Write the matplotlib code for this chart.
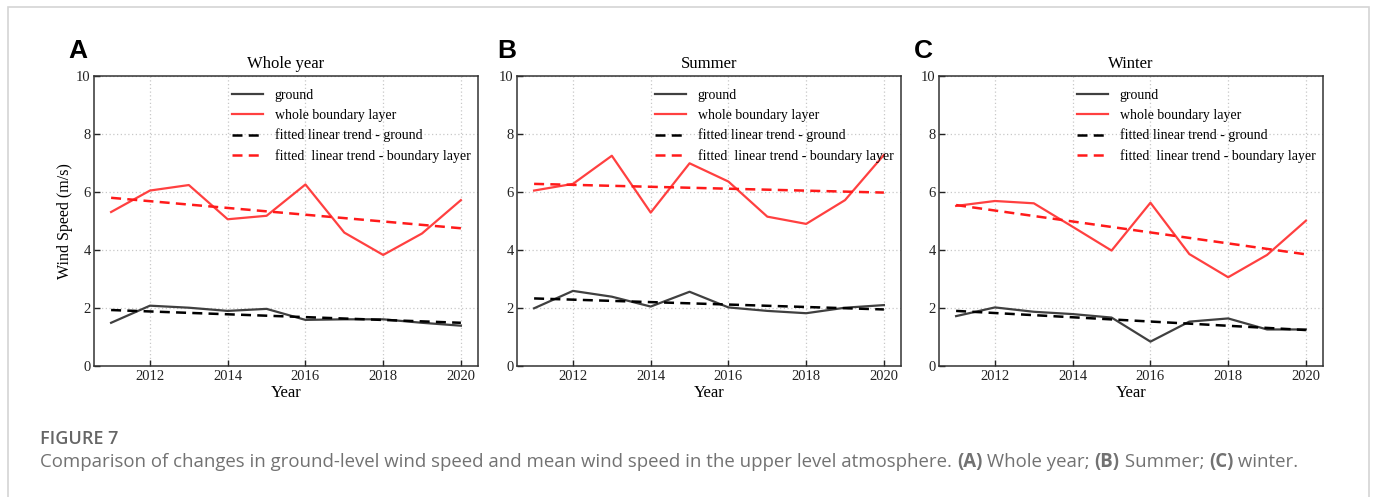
import matplotlib
matplotlib.use("Agg")
import matplotlib.pyplot as plt
from matplotlib.patches import Rectangle

years = [2011, 2012, 2013, 2014, 2015, 2016, 2017, 2018, 2019, 2020]

whole_ground = [1.49, 2.08, 2.01, 1.90, 1.97, 1.59, 1.61, 1.61, 1.49, 1.39]
whole_bl = [5.31, 6.05, 6.24, 5.06, 5.18, 6.26, 4.60, 3.83, 4.57, 5.72]
whole_trend_ground = [1.93, 1.49]
whole_trend_bl = [5.80, 4.75]

summer_ground = [1.99, 2.59, 2.39, 2.05, 2.56, 2.02, 1.90, 1.82, 2.01, 2.10]
summer_bl = [6.05, 6.28, 7.25, 5.29, 6.99, 6.36, 5.15, 4.90, 5.72, 7.28]
summer_trend_ground = [2.33, 1.95]
summer_trend_bl = [6.28, 5.98]

winter_ground = [1.72, 2.02, 1.87, 1.79, 1.67, 0.84, 1.53, 1.64, 1.26, 1.26]
winter_bl = [5.52, 5.69, 5.61, 4.80, 3.98, 5.63, 3.86, 3.06, 3.83, 5.01]
winter_trend_ground = [1.90, 1.24]
winter_trend_bl = [5.55, 3.85]

panel_titles = ["Whole year", "Summer", "Winter"]
panel_letters = ["A", "B", "C"]
legend_labels = ["ground", "whole boundary layer",
                 "fitted linear trend - ground",
                 "fitted  linear trend - boundary layer"]
x_ticks = [2012, 2014, 2016, 2018, 2020]
y_ticks = [0, 2, 4, 6, 8, 10]

panels = [
    (whole_ground, whole_bl, whole_trend_ground, whole_trend_bl),
    (summer_ground, summer_bl, summer_trend_ground, summer_trend_bl),
    (winter_ground, winter_bl, winter_trend_ground, winter_trend_bl),
]

W, H = 1375, 497
fig = plt.figure(figsize=(W / 100, H / 100), dpi=100)
fig.patch.set_facecolor("white")

serif = ["Liberation Serif", "DejaVu Serif"]
sans = ["Open Sans", "DejaVu Sans"]

# outer frame
frame = Rectangle((8 / W, -0.1), (1369 - 8) / W, 1 - 7 / H + 0.1,
                  transform=fig.transFigure, fill=False,
                  edgecolor="#d4d4d4", linewidth=1.2)
fig.add_artist(frame)

lefts = [94, 517, 939]
letter_offsets = [-16, -10, -16]
width_px = 384
bottom_px = 366
top_px = 76

GROUND_C = "#404040"
BL_C = "#ff4040"

for i, (g, bl, tg, tbl) in enumerate(panels):
    l = lefts[i]
    ax = fig.add_axes([l / W, 1 - bottom_px / H, width_px / W,
                       (bottom_px - top_px) / H])
    ax.plot(years, g, color=GROUND_C, lw=1.6, label=legend_labels[0])
    ax.plot(years, bl, color=BL_C, lw=1.6, label=legend_labels[1])
    ax.plot([years[0], years[-1]], tg, color="black", lw=1.8,
            ls=(0, (4, 2.5)), label=legend_labels[2])
    ax.plot([years[0], years[-1]], tbl, color="#ff1a1a", lw=1.8,
            ls=(0, (4, 2.5)), label=legend_labels[3])
    ax.set_xlim(2010.56, 2020.44)
    ax.set_ylim(0, 10)
    ax.set_xticks(x_ticks)
    ax.set_yticks(y_ticks)
    ax.grid(True, color="#c8c8c8", ls=(0, (1, 2)), lw=0.9)
    ax.tick_params(direction="in", length=4, width=1, labelsize=10.5,
                   colors="#222222")
    ax.tick_params(axis="y", pad=2.5)
    ax.tick_params(axis="x", pad=3)
    for lab in ax.get_xticklabels() + ax.get_yticklabels():
        lab.set_fontfamily(serif)
    for sp in ax.spines.values():
        sp.set_color("#333333")
        sp.set_linewidth(1.1)
    ax.set_title(panel_titles[i], fontfamily=serif, fontsize=12, pad=6)
    ax.set_xlabel("Year", fontfamily=serif, fontsize=12, labelpad=1)
    if i == 0:
        ax.set_ylabel("Wind Speed (m/s)", fontfamily=serif, fontsize=11.5,
                      labelpad=2)
    ax.legend(loc="upper left", bbox_to_anchor=(0.36, 0.956),
              frameon=False, prop={"family": serif, "size": 10},
              handlelength=2.2, handletextpad=0.85, labelspacing=0.5,
              borderpad=0, borderaxespad=0)
    fig.text((l + letter_offsets[i]) / W, 1 - 51 / H, panel_letters[i],
             fontfamily=["Liberation Sans", "DejaVu Sans"],
             fontweight="bold", fontsize=19, ha="center", va="center")

fig.text(40 / W, 1 - 439 / H, "FIGURE 7", fontfamily=sans,
         fontweight="semibold", fontsize=13, color="#666666", va="center")

cap_x = 40 / W
cap_y = 1 - 462 / H
parts = [
    ("Comparison of changes in ground-level wind speed and mean wind speed in the upper level atmosphere. ", "normal"),
    ("(A)", "bold"), (" Whole year; ", "normal"),
    ("(B)", "bold"), (" Summer; ", "normal"),
    ("(C)", "bold"), (" winter.", "normal"),
]
fig.canvas.draw()
renderer = fig.canvas.get_renderer()
x = cap_x
for txt, wt in parts:
    t = fig.text(x, cap_y, txt, fontfamily=sans,
                 fontweight=wt, fontsize=13.4, color="#727272", va="center")
    bb = t.get_window_extent(renderer=renderer)
    x += bb.width / W

fig.savefig("out.png", dpi=100)
